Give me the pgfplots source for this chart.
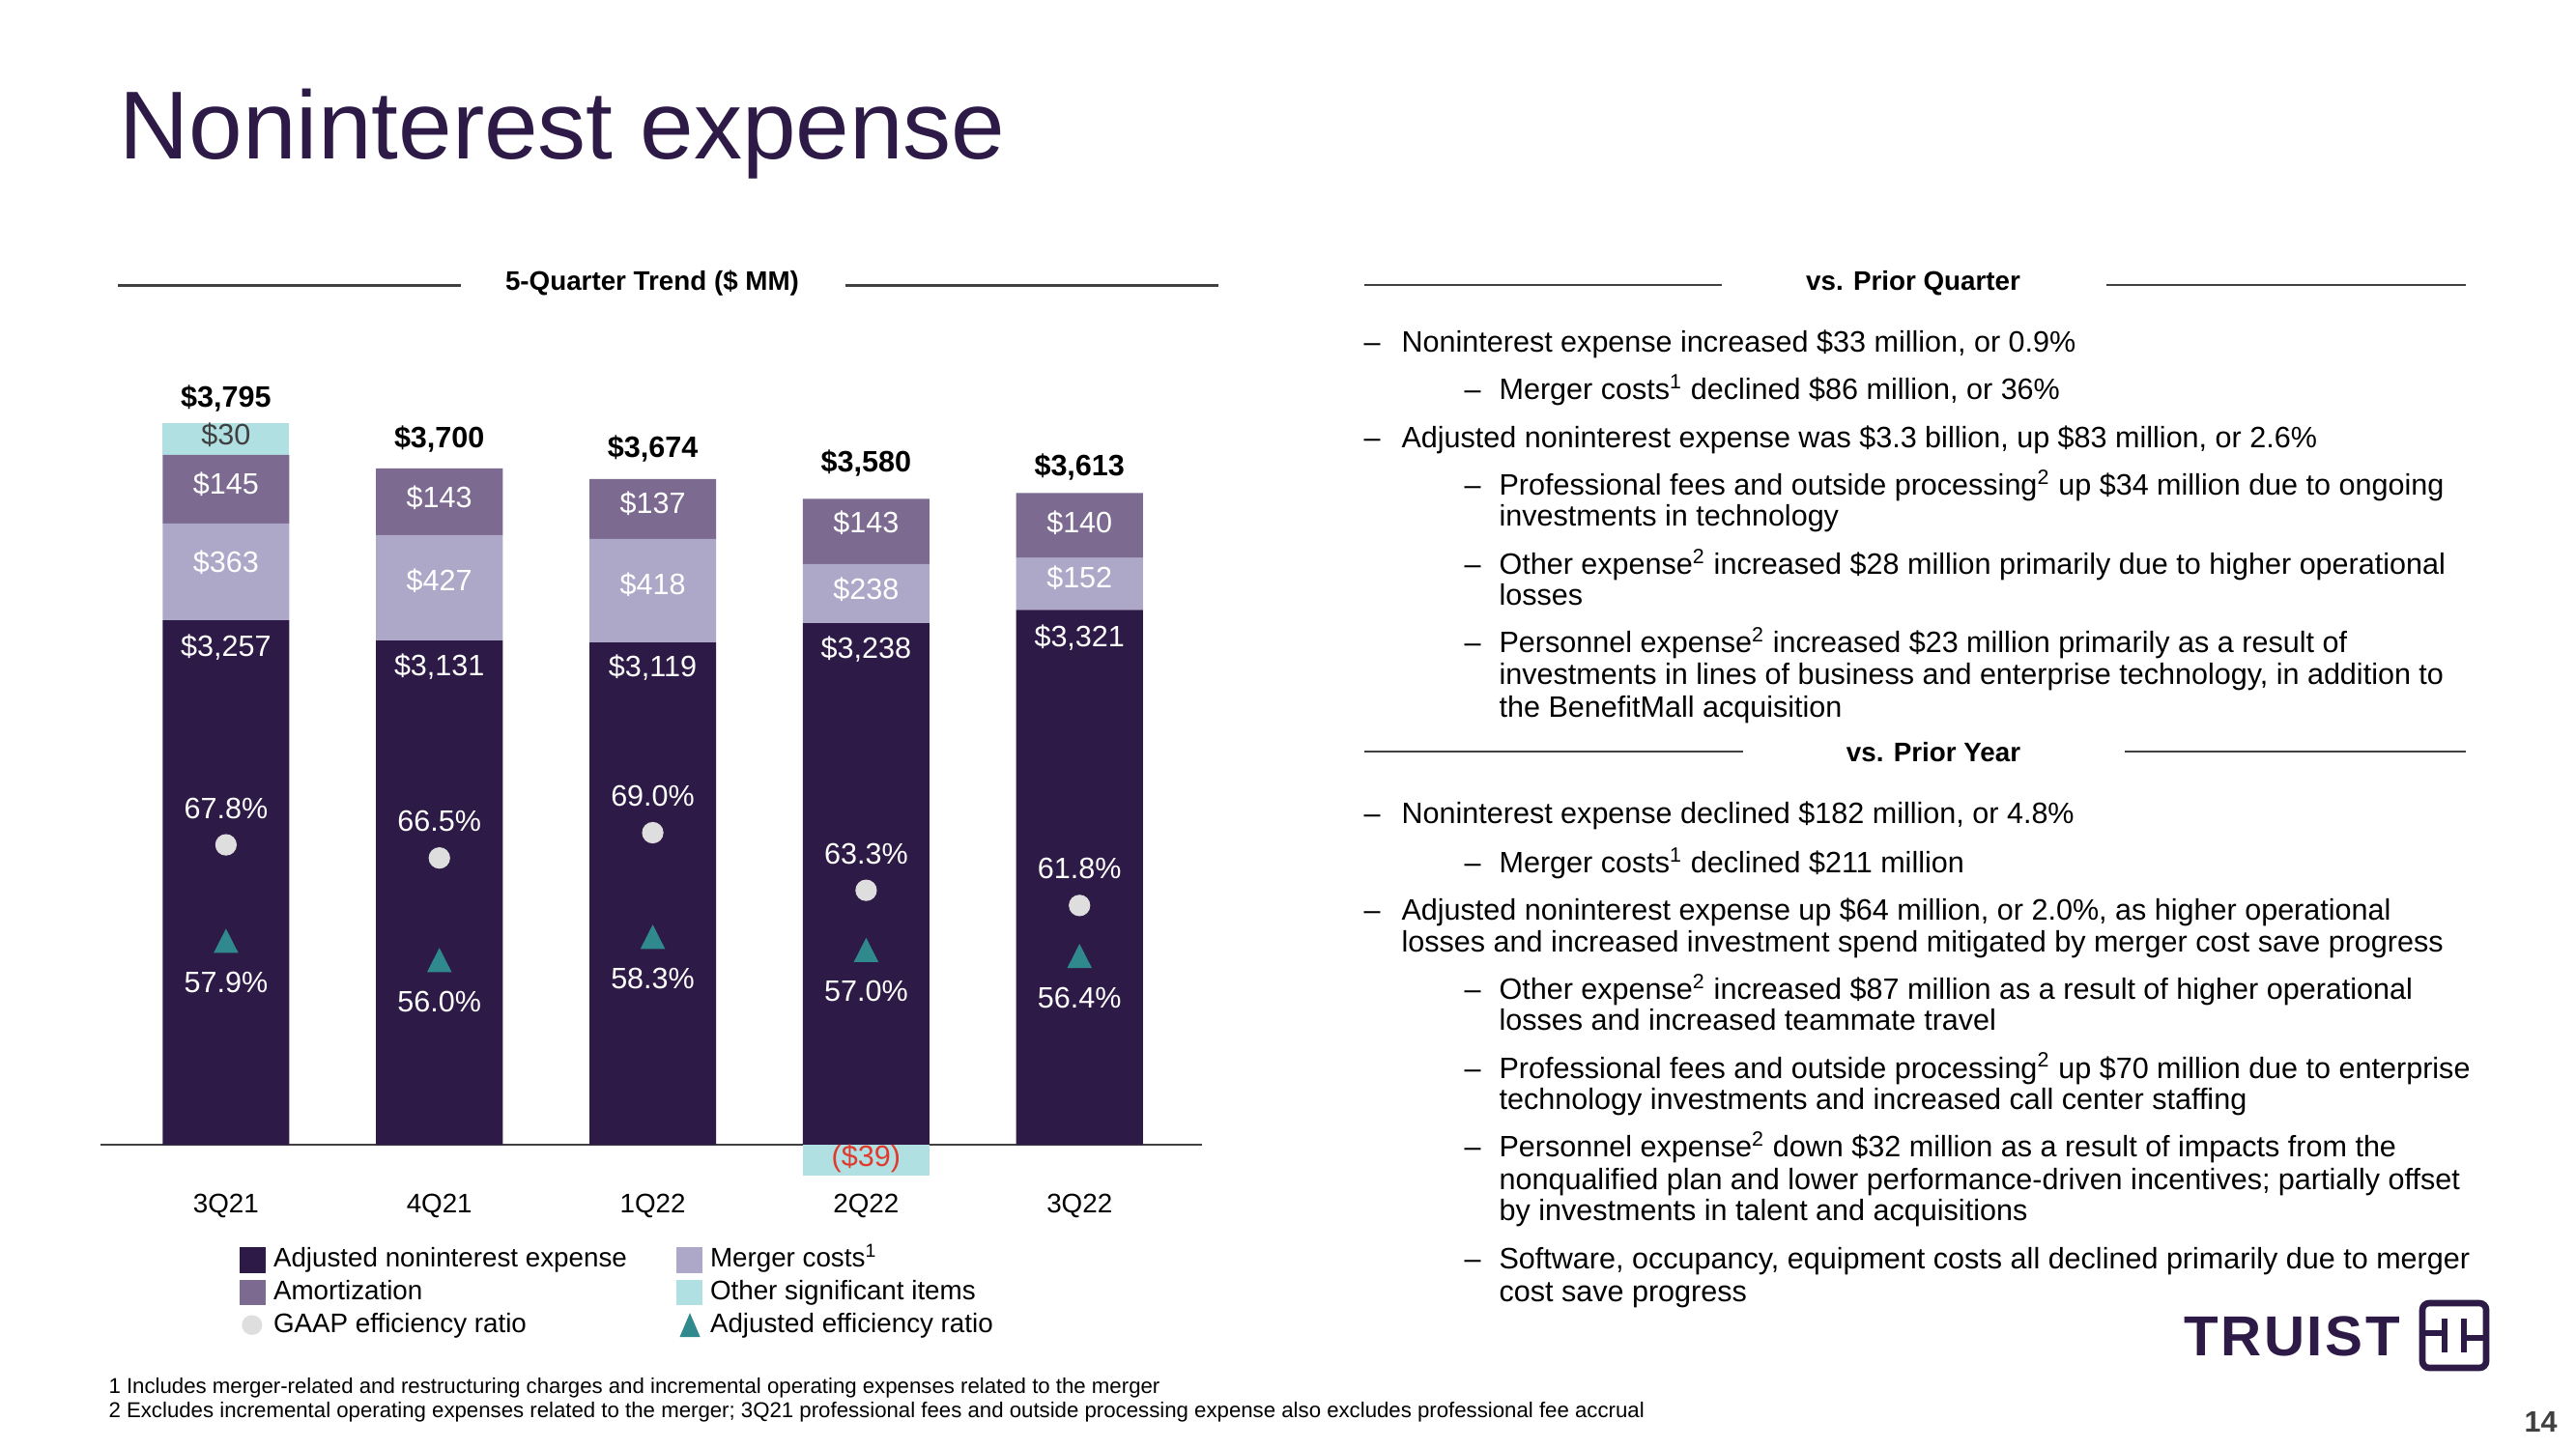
\documentclass[border=0pt]{standalone}
\usepackage{pgfplots}
\pgfplotsset{compat=1.18}
\usepackage{pgfplotstable}
\usepackage{fontspec}
\setmainfont{Liberation Sans}

\definecolor{adjc}{HTML}{2E1A47}
\definecolor{amortc}{HTML}{7C6A91}
\definecolor{mergerc}{HTML}{ADA8C8}
\definecolor{otherc}{HTML}{B1E0E2}
\definecolor{gaapc}{HTML}{DEDEDE}
\definecolor{triac}{HTML}{2F898D}
\definecolor{redc}{HTML}{E03A2E}
\definecolor{axisgray}{HTML}{404040}

\newcommand{\labfont}{\fontsize{11}{13}\selectfont}
\newcommand{\bodyfont}{\fontsize{11}{13}\selectfont}
\newcommand{\smallfont}{\fontsize{10}{12}\selectfont}

% stacked segment heights as drawn in the reference (its small segments are not to scale)
\pgfplotstableread{
x adj merger amort other
0 3257 600 426 196
1 3131 654 414 0
2 3119 642 372 0
3 3238 368 404 0
4 3321 322 404 0
}\bars
% segment labels: x, label position, printed value
\pgfplotstableread{
x y val
0 3089 3257
0 3613 363
0 4099 145
1 2969 3131
1 3499 427
1 4019 143
2 2960 3119
2 3479 418
2 3979 137
3 3079 3238
3 3449 238
3 3859 143
4 3149 3321
4 3521 152
4 3859 140
}\seglabels
\pgfplotstableread{
x y val
0 4631 3795
1 4379 3700
2 4319 3674
3 4229 3580
4 4209 3613
}\totals
\pgfplotstableread{
x gaap adj
0 67.8 57.9
1 66.5 56.0
2 69.0 58.3
3 63.3 57.0
4 61.8 56.4
}\ratios

\pgfplotsset{
  /pgf/number format/assume math mode=true,
  panel/.style={
    scale only axis, width=410.57pt, height=314.57pt,
    at={(37.38pt,-441.11pt)}, anchor=south west,
    xmin=-0.589, xmax=4.574, clip=false,
  },
  legbase/.style={
    legend style={anchor=north west, draw=none, fill=none, inner sep=0pt, outer sep=0pt,
      row sep=2.56pt, font=\smallfont,
      nodes={inner sep=0pt, text height=7.5pt, text depth=2pt},
      /tikz/every odd column/.append style={column sep=3pt}},
    legend cell align=left,
  },
}

\begin{document}
\begin{tikzpicture}
\fill[white] (0pt,0pt) rectangle (960pt,-540pt);
\path[use as bounding box] (0pt,0pt) rectangle (960pt,-540pt);

% ---------- stacked bars ----------
\begin{axis}[panel, legbase, ybar stacked, bar width=47.2pt,
  ymin=-240, ymax=5000,
  axis line style={draw=none}, major tick length=0pt, tick style={draw=none},
  xtick={0,1,2,3,4}, xticklabels={3Q21,4Q21,1Q22,2Q22,3Q22},
  xticklabel style={anchor=center, yshift=-8.3pt, font=\smallfont, text=black},
  ytick=\empty, extra y ticks={0}, extra y tick labels={},
  extra y tick style={grid=major, major grid style={draw=axisgray, line width=1pt}},
  legend style={at={(0.1265,-0.0755)}},
]
\addplot[fill=adjc, draw=none, forget plot] table[x=x,y=adj]{\bars};
\addplot[fill=mergerc, draw=none, forget plot] table[x=x,y=merger]{\bars};
\addplot[fill=amortc, draw=none, forget plot] table[x=x,y=amort]{\bars};
\addplot[fill=otherc, draw=none, forget plot] table[x=x,y=other]{\bars};
\addlegendimage{legend image code/.code={\fill[adjc, draw=none] (0pt,-4.8pt) rectangle (9.6pt,4.8pt);}}
\addlegendentry{Adjusted noninterest expense}
\addlegendimage{legend image code/.code={\fill[amortc, draw=none] (0pt,-4.8pt) rectangle (9.6pt,4.8pt);}}
\addlegendentry{Amortization}
\addlegendimage{legend image code/.code={\path[draw=none, fill=none] (0pt,0pt) rectangle (9.6pt,0pt); \fill[gaapc, draw=none] (4.6pt,0pt) ellipse (3.8pt and 3.7pt);}}
\addlegendentry{GAAP efficiency ratio}
\end{axis}

% ---------- negative item and labels ----------
\begin{axis}[panel, hide axis, ymin=-240, ymax=5000]
\addplot[ybar, bar width=47.2pt, bar shift=0pt, fill=otherc, draw=none] coordinates {(3,-192)};
\addplot[only marks, mark=none, nodes near coords={(\$39)},
  every node near coord/.append style={anchor=center, text=redc, font=\labfont}] coordinates {(3,-89)};
\addplot[only marks, mark=none, point meta=explicit,
  nodes near coords={\$\pgfmathprintnumber[1000 sep={,}]{\pgfplotspointmeta}},
  every node near coord/.append style={anchor=center, text=white, font=\labfont}]
  table[x=x,y=y,meta=val]{\seglabels};
\addplot[only marks, mark=none, nodes near coords={\$30},
  every node near coord/.append style={anchor=center, text=axisgray, font=\labfont}] coordinates {(0,4409)};
\addplot[only marks, mark=none, point meta=explicit,
  nodes near coords={\$\pgfmathprintnumber[1000 sep={,}]{\pgfplotspointmeta}},
  every node near coord/.append style={anchor=center, text=black, font=\labfont\bfseries}]
  table[x=x,y=y,meta=val]{\totals};
\end{axis}

% ---------- efficiency ratios ----------
\begin{axis}[panel, legbase, hide axis, ymin=34.30, ymax=117.81,
  legend style={at={(0.5229,-0.0755)}}]
\addplot[only marks, mark=*, mark size=3.8pt, color=gaapc, forget plot, point meta=y,
  nodes near coords={\pgfmathprintnumber[fixed,fixed zerofill,precision=1]{\pgfplotspointmeta}\%},
  every node near coord/.append style={anchor=center, yshift=13.7pt, text=white, font=\labfont}]
  table[x=x,y=gaap]{\ratios};
\addplot[only marks, mark=triangle*, mark size=5.6pt, mark options={xscale=0.88}, color=triac, forget plot, point meta=y,
  nodes near coords={\pgfmathprintnumber[fixed,fixed zerofill,precision=1]{\pgfplotspointmeta}\%},
  every node near coord/.append style={anchor=center, yshift=-14pt, text=white, font=\labfont}]
  table[x=x,y=adj]{\ratios};
\addlegendimage{legend image code/.code={\fill[mergerc, draw=none] (0pt,-4.8pt) rectangle (9.6pt,4.8pt);}}
\addlegendentry{Merger costs\textsuperscript{1}}
\addlegendimage{legend image code/.code={\fill[otherc, draw=none] (0pt,-4.8pt) rectangle (9.6pt,4.8pt);}}
\addlegendentry{Other significant items}
\addlegendimage{legend image code/.code={\path[draw=none, fill=none] (0pt,0pt) rectangle (9.6pt,0pt); \fill[triac, draw=none] (1.2pt,-4.5pt) -- (8.9pt,-4.5pt) -- (5.05pt,4.5pt) -- cycle;}}
\addlegendentry{Adjusted efficiency ratio}
\end{axis}

% ---------- slide text ----------
\begin{scope}[x=0.36009pt, y=-0.36009pt,
  txt/.style={anchor=base west, inner sep=0pt, font=\bodyfont, text=black},
  hd/.style={anchor=base, inner sep=0pt, font=\smallfont\bfseries, text=black},
  rule/.style={draw=axisgray, line width=0.75pt}]
\node[anchor=base west, inner sep=0pt, text=adjc, font=\fontsize{36}{40}\selectfont] at (123,165) {Noninterest expense};

% section headings
\draw[rule] (122,295.5) -- (477,295.5);
\draw[rule] (874.5,295.5) -- (1261,295.5);
\node[hd] at (675,300.5) {5-Quarter Trend (\$ MM)};
\draw[rule] (1411.5,295) -- (1782,295);
\draw[rule] (2180,295) -- (2552,295);
\node[hd] at (1980,300.5) {vs. Prior Quarter};
\draw[rule] (1411.5,777.6) -- (1804,777.6);
\draw[rule] (2199,777.6) -- (2552,777.6);
\node[hd] at (2001,788.5) {vs. Prior Year};

% vs prior quarter
\node[txt] at (1411,364.6) {–}; \node[txt] at (1450,364.6) {Noninterest expense increased \$33 million, or 0.9\%};
\node[txt] at (1515,413.9) {–}; \node[txt] at (1551,413.9) {Merger costs\textsuperscript{1} declined \$86 million, or 36\%};
\node[txt] at (1411,463.2) {–}; \node[txt] at (1450,463.2) {Adjusted noninterest expense was \$3.3 billion, up \$83 million, or 2.6\%};
\node[txt] at (1515,512.5) {–}; \node[txt] at (1551,512.5) {Professional fees and outside processing\textsuperscript{2} up \$34 million due to ongoing};
\node[txt] at (1551,544.8) {investments in technology};
\node[txt] at (1515,594.1) {–}; \node[txt] at (1551,594.1) {Other expense\textsuperscript{2} increased \$28 million primarily due to higher operational};
\node[txt] at (1551,626.4) {losses};
\node[txt] at (1515,675.7) {–}; \node[txt] at (1551,675.7) {Personnel expense\textsuperscript{2} increased \$23 million primarily as a result of};
\node[txt] at (1551,708) {investments in lines of business and enterprise technology, in addition to};
\node[txt] at (1551,742) {the BenefitMall acquisition};

% vs prior year
\node[txt] at (1411,852.5) {–}; \node[txt] at (1450,852.5) {Noninterest expense declined \$182 million, or 4.8\%};
\node[txt] at (1515,903.5) {–}; \node[txt] at (1551,903.5) {Merger costs\textsuperscript{1} declined \$211 million};
\node[txt] at (1411,952.8) {–}; \node[txt] at (1450,952.8) {Adjusted noninterest expense up \$64 million, or 2.0\%, as higher operational};
\node[txt] at (1450,985.1) {losses and increased investment spend mitigated by merger cost save progress};
\node[txt] at (1515,1034.4) {–}; \node[txt] at (1551,1034.4) {Other expense\textsuperscript{2} increased \$87 million as a result of higher operational};
\node[txt] at (1551,1066.7) {losses and increased teammate travel};
\node[txt] at (1515,1116) {–}; \node[txt] at (1551,1116) {Professional fees and outside processing\textsuperscript{2} up \$70 million due to enterprise};
\node[txt] at (1551,1148.3) {technology investments and increased call center staffing};
\node[txt] at (1515,1197.6) {–}; \node[txt] at (1551,1197.6) {Personnel expense\textsuperscript{2} down \$32 million as a result of impacts from the};
\node[txt] at (1551,1231.6) {nonqualified plan and lower performance-driven incentives; partially offset};
\node[txt] at (1551,1263.9) {by investments in talent and acquisitions};
\node[txt] at (1515,1313.2) {–}; \node[txt] at (1551,1313.2) {Software, occupancy, equipment costs all declined primarily due to merger};
\node[txt] at (1551,1347.2) {cost save progress};

% footnotes
\node[anchor=base west, inner sep=0pt, font=\fontsize{8}{10}\selectfont] at (112,1442) {1 Includes merger-related and restructuring charges and incremental operating expenses related to the merger};
\node[anchor=base west, inner sep=0pt, font=\fontsize{8}{10}\selectfont] at (112,1467) {2 Excludes incremental operating expenses related to the merger; 3Q21 professional fees and outside processing expense also excludes professional fee accrual};

% page number
\node[anchor=base east, inner sep=0pt, font=\fontsize{11}{13}\selectfont\bfseries, text=axisgray] at (2647,1482.5) {14};

% logo
\node[anchor=base west, inner sep=0pt, text=adjc, font=\fontsize{21}{21}\bfseries\addfontfeature{LetterSpace=4.3}] at (2260,1403.3) {TRUIST};
\draw[adjc, line width=2.4pt, rounded corners=2.5pt] (2507,1349) rectangle (2573,1416);
\draw[adjc, line width=2.1pt] (2507,1380) -- (2530,1380);
\draw[adjc, line width=2.1pt] (2530,1365) -- (2530,1400);
\draw[adjc, line width=2.1pt] (2550,1365) -- (2550,1400);
\draw[adjc, line width=2.1pt] (2550,1385) -- (2573,1385);
\end{scope}
\end{tikzpicture}
\end{document}
